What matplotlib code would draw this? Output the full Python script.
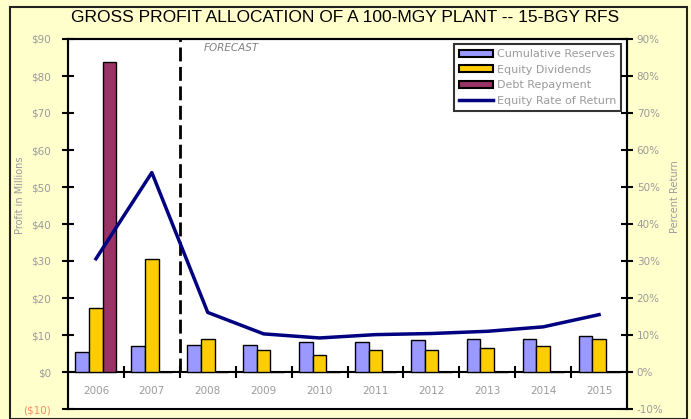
import matplotlib
matplotlib.use("Agg")
import matplotlib.pyplot as plt
from matplotlib.patches import Rectangle, Patch
from matplotlib.lines import Line2D
import numpy as np

years = ["2006", "2007", "2008", "2009", "2010", "2011", "2012", "2013", "2014", "2015"]
cumulative_reserves = [5.4, 6.9, 7.4, 7.4, 8.1, 8.1, 8.6, 9.05, 9.05, 9.6]
equity_dividends = [17.2, 30.6, 9.05, 5.9, 4.7, 5.9, 5.9, 6.45, 7.0, 9.05]
debt_repayment = [83.9, 0, 0, 0, 0, 0, 0, 0, 0, 0]
equity_ror = [30.6, 53.9, 16.1, 10.3, 9.2, 10.1, 10.4, 11.0, 12.2, 15.5]

left_ticks = [-10, 0, 10, 20, 30, 40, 50, 60, 70, 80, 90]
left_labels = ["($10)", "$0", "$10", "$20", "$30", "$40", "$50", "$60", "$70", "$80", "$90"]
right_labels = ["-10%", "0%", "10%", "20%", "30%", "40%", "50%", "60%", "70%", "80%", "90%"]

C_RES = "#9999FF"
C_DIV = "#FFCC00"
C_DEBT = "#993366"
C_ROR = "#000080"
GRAY = "#9a9a9a"
SMALL = ['DejaVu Sans']

plt.rcParams['font.family'] = ['Liberation Sans', 'DejaVu Sans']

fig = plt.figure(figsize=(6.91, 4.19), dpi=100, facecolor="#FFFFCC")
W, H = 691, 419
ax = fig.add_axes([68 / W, (H - 409) / H, (627 - 68) / W, (409 - 39) / H])
ax.set_facecolor("white")

x = np.arange(len(years))
bw = 0.245
ax.bar(x - bw, cumulative_reserves, bw, color=C_RES, edgecolor="black", linewidth=1.0, zorder=3)
ax.bar(x, equity_dividends, bw, color=C_DIV, edgecolor="black", linewidth=1.0, zorder=3)
ax.bar(x + bw, debt_repayment, bw, color=C_DEBT, edgecolor="black", linewidth=1.0, zorder=3)

ax.set_xlim(-0.5, len(years) - 0.5)
ax.set_ylim(-10, 90)
ax.set_yticks(left_ticks)
ax.set_yticklabels(left_labels, fontsize=7.5, color=GRAY, family=SMALL)
ax.get_yticklabels()[0].set_color("#FF8866")
ax.tick_params(axis="y", direction="inout", length=8, width=1.5, pad=8)

# category axis at zero
ax.spines["bottom"].set_position(("data", 0))
ax.set_xticks(x[:-1] + 0.5)
ax.set_xticklabels([])
ax.tick_params(axis="x", direction="inout", length=8, width=1.5)
for s in ax.spines.values():
    s.set_linewidth(1.5)
for i, yr in enumerate(years):
    ax.text(i, -5, yr, ha="center", va="center", fontsize=7.5, color=GRAY, family=SMALL)

ax2 = ax.twinx()
ax2.set_ylim(-10, 90)
ax2.set_yticks(left_ticks)
ax2.set_yticklabels(right_labels, fontsize=7.5, color=GRAY, family=SMALL)
ax2.tick_params(axis="y", direction="inout", length=8, width=1.5, pad=3)
for s in ax2.spines.values():
    s.set_linewidth(1.5)
ax2.plot(x, equity_ror, color=C_ROR, linewidth=2.5, zorder=4)

ax.axvline(1.5, ymin=0.1, ymax=1.0, color="black", linestyle=(0, (5, 2)), linewidth=2, zorder=5)
ax.text(0.243, 0.975, "FORECAST", transform=ax.transAxes, fontsize=7.5, style="italic",
        color="#808080", ha="left", va="center", family=SMALL)

fig.text(20 / W, 1 - 195 / H, "Profit in Millions", rotation=90, fontsize=7, color=GRAY,
         ha="center", va="center", family=SMALL)
fig.text(675 / W, 1 - 197 / H, "Percent Return", rotation=90, fontsize=7, color=GRAY,
         ha="center", va="center", family=SMALL)

handles = [Patch(facecolor=C_RES, edgecolor="black", linewidth=1.5),
           Patch(facecolor=C_DIV, edgecolor="black", linewidth=1.5),
           Patch(facecolor=C_DEBT, edgecolor="black", linewidth=1.5),
           Line2D([], [], color=C_ROR, linewidth=2.5)]
leg = ax2.legend(handles, ["Cumulative Reserves", "Equity Dividends", "Debt Repayment", "Equity Rate of Return"],
                 loc="upper right", bbox_to_anchor=(0.996, 0.995), frameon=True,
                 prop={'family': SMALL, 'size': 8},
                 fancybox=False, edgecolor="black", labelcolor=GRAY, handlelength=3.0,
                 handleheight=0.6, handletextpad=0.4, labelspacing=0.5, borderpad=0.45,
                 borderaxespad=0.3)
leg.get_frame().set_linewidth(1.5)

fig.text(0.5, 1 - 18 / H, "GROSS PROFIT ALLOCATION OF A 100-MGY PLANT -- 15-BGY RFS",
         ha="center", va="center", fontsize=12.5, color="black")

fig.patches.append(Rectangle((10 / W, 0), (687 - 10) / W, (H - 7) / H, transform=fig.transFigure,
                             fill=False, edgecolor="#222222", linewidth=1.5))

fig.savefig("out.png", dpi=100, facecolor=fig.get_facecolor())
